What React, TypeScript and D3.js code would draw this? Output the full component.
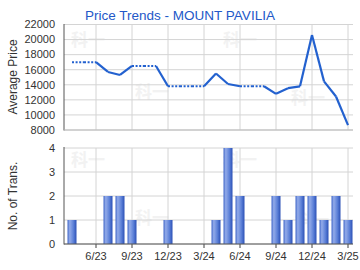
import React from "react";
import * as d3 from "d3";

const months = ["4/23","5/23","6/23","7/23","8/23","9/23","10/23","11/23","12/23","1/24","2/24","3/24","4/24","5/24","6/24","7/24","8/24","9/24","10/24","11/24","12/24","1/25","2/25","3/25"];
const prices = [17000,17000,17000,15700,15300,16500,16500,16500,13800,13800,13800,13800,15500,14100,13800,13800,13800,12800,13550,13800,20600,14450,12450,8650];
const counts = [1,0,0,2,2,1,0,0,1,0,0,0,1,4,2,0,0,2,1,2,2,1,2,1];
const xTickLabels = ["6/23","9/23","12/23","3/24","6/24","9/24","12/24","3/25"];
const priceTicks = [8000,10000,12000,14000,16000,18000,20000,22000];
const countTicks = [0,1,2,3,4];
const title = "Price Trends - MOUNT PAVILIA";

const FONT = "'Liberation Sans', Arial, sans-serif";

export default function App() {
  const W = 360, H = 270;
  const L = 64, R = 352;
  const x = d3.scaleLinear().domain([-2 / 3, months.length - 1 + 1 / 3]).range([L, R]);
  const yP = d3.scaleLinear().domain([8000, 22000]).range([130, 24.5]);
  const yC = d3.scaleLinear().domain([0, 4]).range([244, 148]);
  const tickIdx = xTickLabels.map((t) => months.indexOf(t));
  const lineGen = d3.line<[number, number]>().x((d) => d[0]).y((d) => d[1]);
  const segs = prices.slice(1).map((p, k) => {
    const i = k + 1;
    return {
      d: lineGen([[x(i - 1), yP(prices[i - 1])], [x(i), yP(p)]]) as string,
      dotted: counts[i] === 0,
    };
  });
  const bw = 9;
  const marks = [
    [88, 46], [152, 98], [240, 46], [308, 104],
    [88, 166], [152, 224], [240, 166], [312, 226],
  ];
  return (
    <svg width={W} height={H} style={{ position: "absolute", left: 0, top: 0, background: "#fff" }} fontFamily={FONT}>
      <defs>
        <linearGradient id="bg" x1="0" x2="1" y1="0" y2="0">
          <stop offset="0%" stopColor="#3f66c8" />
          <stop offset="25%" stopColor="#93abe9" />
          <stop offset="65%" stopColor="#5d81d8" />
          <stop offset="100%" stopColor="#2b50b6" />
        </linearGradient>
      </defs>
      {marks.map(([mx, my], i) => (
        <text key={"w" + i} x={mx} y={my} fontSize={17} fontWeight="bold" fill="#f2f2f2" textAnchor="middle" fontFamily="'Noto Sans CJK SC', sans-serif">科一</text>
      ))}
      <text x={180} y={20} textAnchor="middle" fontSize={13.5} fill="#2358c8">{title}</text>
      {priceTicks.map((t) => (
        <line key={"pg" + t} x1={L} x2={353} y1={yP(t)} y2={yP(t)} stroke="#d4d4d4" />
      ))}
      {tickIdx.map((i) => (
        <line key={"pv" + i} x1={x(i)} x2={x(i)} y1={24} y2={130} stroke="#d4d4d4" />
      ))}
      <line x1={L} x2={L} y1={24} y2={130.5} stroke="#555" />
      <line x1={L} x2={353} y1={130} y2={130} stroke="#bbb" />
      {priceTicks.map((t) => (
        <text key={"pl" + t} x={55} y={yP(t)} dy="0.35em" textAnchor="end" fontSize={11} fill="#333">{t}</text>
      ))}
      <text transform={`translate(17,${(24 + 130) / 2}) rotate(-90)`} textAnchor="middle" fontSize={12} fill="#333">Average Price</text>
      {segs.map((s, i) => (
        <path key={"s" + i} d={s.d} fill="none" stroke="#2361cf" strokeWidth={s.dotted ? 2 : 2.2} strokeDasharray={s.dotted ? "2,1.6" : undefined} strokeLinecap="butt" />
      ))}
      {countTicks.map((t) => (
        <line key={"cg" + t} x1={L} x2={353} y1={yC(t)} y2={yC(t)} stroke="#d4d4d4" />
      ))}
      {tickIdx.map((i) => (
        <line key={"cv" + i} x1={x(i)} x2={x(i)} y1={148} y2={248} stroke="#d4d4d4" />
      ))}
      {counts.map((c, i) => c > 0 ? (
        <rect key={"b" + i} x={x(i) - bw / 2} y={yC(c)} width={bw} height={yC(0) - yC(c)} fill="url(#bg)" />
      ) : null)}
      <line x1={L} x2={L} y1={147} y2={244.5} stroke="#555" />
      <line x1={L} x2={353} y1={244} y2={244} stroke="#555" />
      {tickIdx.map((i) => (
        <line key={"ct" + i} x1={x(i)} x2={x(i)} y1={244} y2={248} stroke="#555" />
      ))}
      {countTicks.map((t) => (
        <text key={"cl" + t} x={55} y={yC(t)} dy="0.35em" textAnchor="end" fontSize={11} fill="#333">{t}</text>
      ))}
      {tickIdx.map((i, k) => (
        <text key={"xl" + i} x={x(i)} y={260} textAnchor="middle" fontSize={11} fill="#333">{xTickLabels[k]}</text>
      ))}
      <text transform={`translate(17,196) rotate(-90)`} textAnchor="middle" fontSize={12} fill="#333">No. of Trans.</text>
    </svg>
  );
}
